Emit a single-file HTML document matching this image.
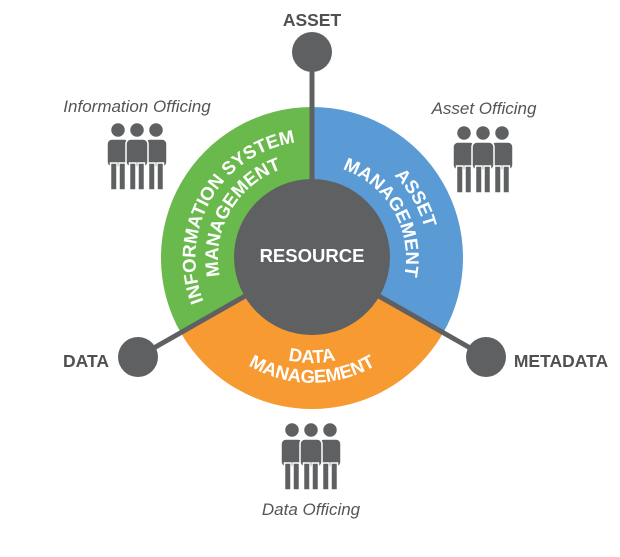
<!DOCTYPE html>
<html><head><meta charset="utf-8"><style>
html,body{margin:0;padding:0;background:#fff;}
svg{display:block;}
</style></head><body>
<svg width="620" height="557" viewBox="0 0 620 557" xmlns="http://www.w3.org/2000/svg" font-family="Liberation Sans, sans-serif">
<defs>
<g id="p">
<circle cx="0" cy="7" r="7.5"/>
<rect x="-11" y="16" width="22" height="28" rx="5"/>
<rect x="-7.5" y="40" width="6.5" height="27"/>
<rect x="1" y="40" width="6.5" height="27"/>
</g>
<g id="grp" fill="#5f6062" stroke="#fff" stroke-width="1.5">
<use href="#p" x="-19"/>
<use href="#p" x="19"/>
<use href="#p" x="0"/>
</g>
<path id="g1" d="M244.9,353.8 A117,117 0 0 1 361.4,152.0"/>
<path id="g2" d="M258.1,335.0 A94,94 0 0 1 351.7,172.8"/>
<path id="b1" d="M262.6,152.0 A117,117 0 0 1 379.1,353.8"/>
<path id="b2" d="M272.3,172.8 A94,94 0 0 1 365.9,335.0"/>
<path id="o1" d="M206.4,267.2 A106,106 0 0 0 417.6,267.2"/>
<path id="o2" d="M186.5,269.0 A126,126 0 0 0 437.5,269.0"/>
</defs>
<path d="M312,258 L181.2,333.5 A151,151 0 0 1 312,107 Z" fill="#6ab94c"/>
<path d="M312,258 L312,107 A151,151 0 0 1 442.8,333.5 Z" fill="#5b9bd5"/>
<path d="M312,258 L442.8,333.5 A151,151 0 0 1 181.2,333.5 Z" fill="#f79a32"/>
<g stroke="#5f6062" stroke-width="5">
<line x1="312" y1="258" x2="312" y2="52"/>
<line x1="312" y1="258" x2="138" y2="357"/>
<line x1="312" y1="258" x2="486" y2="357"/>
</g>
<g fill="#5f6062">
<circle cx="312" cy="52" r="20"/>
<circle cx="138" cy="357" r="20"/>
<circle cx="486" cy="357" r="20"/>
<circle cx="312" cy="257" r="78"/>
</g>
<g fill="#fff" font-weight="bold" font-size="18.5" text-anchor="middle">
<text x="312" y="262" font-size="18.5">RESOURCE</text>
<text><textPath href="#g1" startOffset="50%">INFORMATION SYSTEM</textPath></text>
<text><textPath href="#g2" startOffset="50%">MANAGEMENT</textPath></text>
<text><textPath href="#b1" startOffset="50%">ASSET</textPath></text>
<text><textPath href="#b2" startOffset="50%">MANAGEMENT</textPath></text>
<text dy="-1"><textPath href="#o1" startOffset="50%">DATA</textPath></text>
<text dy="-1"><textPath href="#o2" startOffset="50%">MANAGEMENT</textPath></text>
</g>
<g fill="#505050" font-weight="bold" font-size="17.5" text-anchor="middle">
<text x="312" y="26">ASSET</text>
<text x="86" y="367">DATA</text>
<text x="561" y="367">METADATA</text>
</g>
<g fill="#555" font-style="italic" font-size="17" text-anchor="middle">
<text x="137" y="112">Information Officing</text>
<text x="484" y="114">Asset Officing</text>
<text x="311" y="515">Data Officing</text>
</g>
<use href="#grp" x="137" y="123"/>
<use href="#grp" x="483" y="126"/>
<use href="#grp" x="311" y="423"/>
</svg>
</body></html>
